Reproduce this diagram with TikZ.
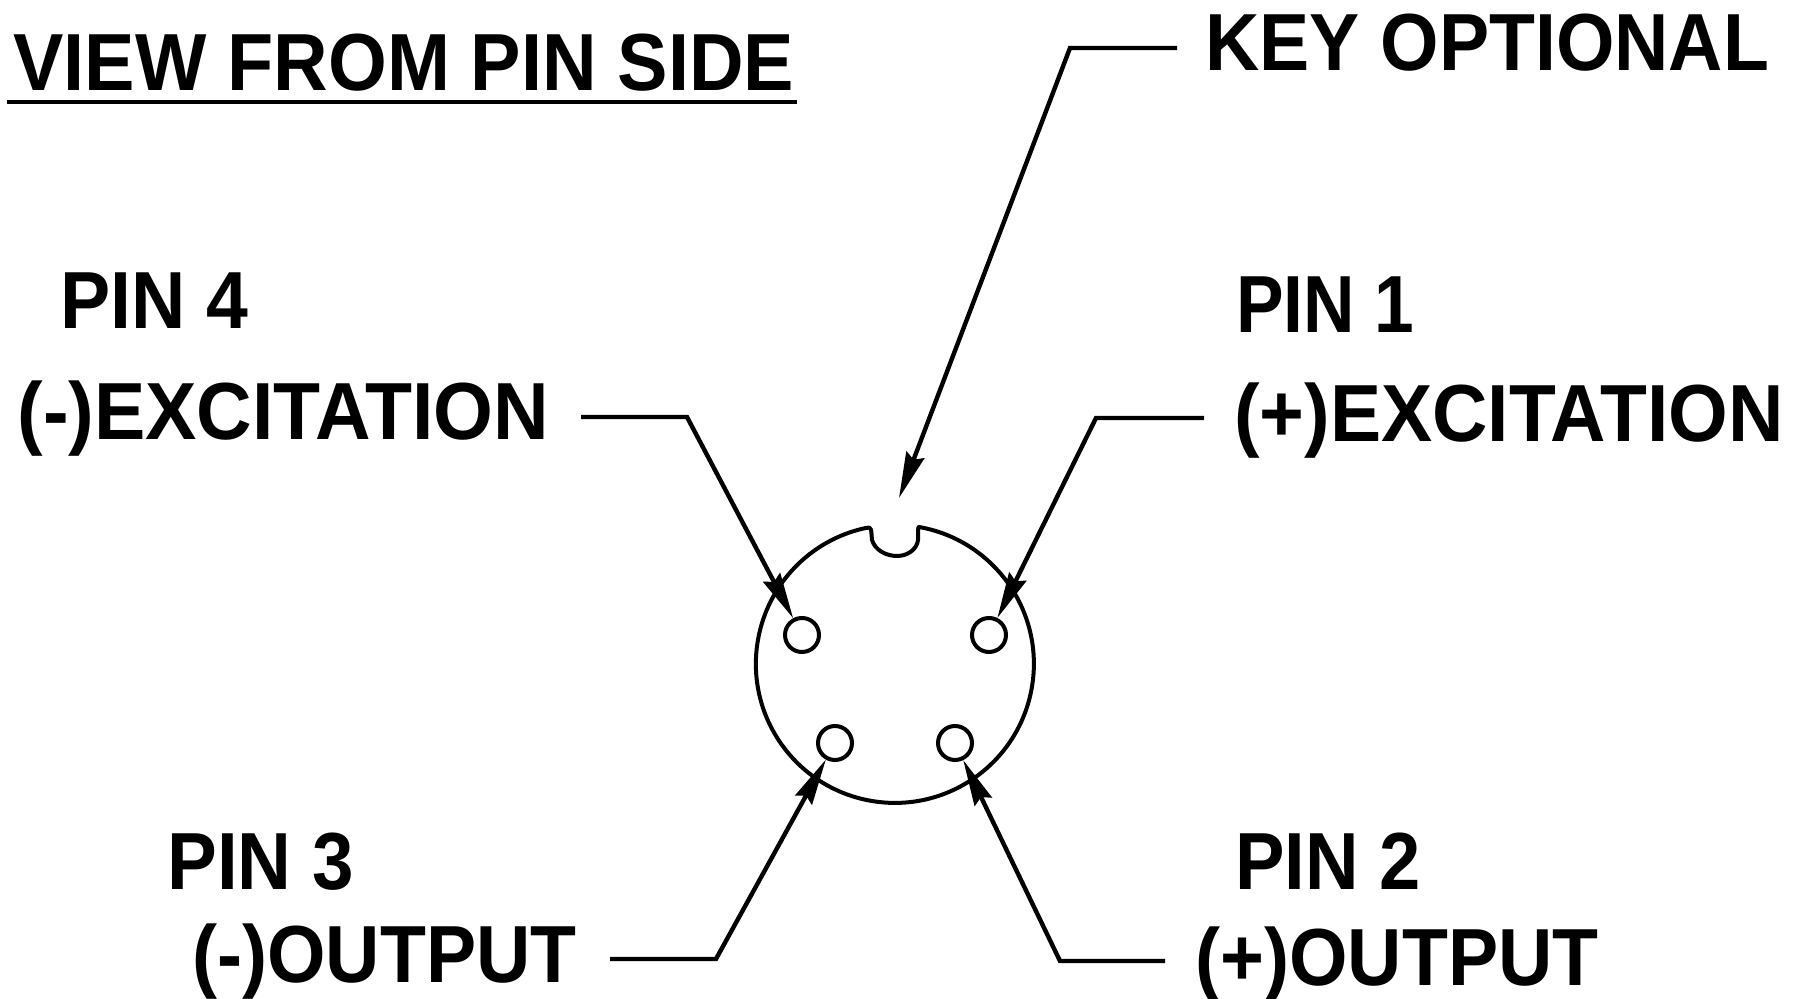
\documentclass[tikz,border=0pt]{standalone}
\usepackage{fontspec}
\setmainfont{Liberation Sans}
\usetikzlibrary{arrows.meta}

\begin{document}
\begin{tikzpicture}[x=0.5pt, y=-0.5pt,
        every node/.style={font=\fontsize{40.5}{40.5}\bfseries\selectfont, inner sep=0pt, anchor=base west},
        pinhole/.style={draw, circle, line width=2pt, minimum size=17pt, anchor=center},
        leader/.style={-{Stealth[length=23pt, width=9.5pt, inset=2.5pt]}, line width=2.2pt}]
    \useasboundingbox (0,0) rectangle (1794,999);

    % Title
    \node[xscale=0.933] (title) at (13, 91) {VIEW FROM PIN SIDE};
    \draw[line width=2.2pt] (7, 102) -- (797, 102);

    % Labels, left side
    \node[xscale=0.928] (pinfour) at (60, 329) {PIN 4};
    \node[xscale=0.95] (excneg) at (17, 440) {(-)EXCITATION};
    \node[xscale=0.92] (pinthree) at (167, 889) {PIN 3};
    \node[xscale=0.928] (outneg) at (192, 982) {(-)OUTPUT};

    % Labels, right side
    \node[xscale=0.928] (keyopt) at (1205, 71) {KEY OPTIONAL};
    \node[xscale=0.88] (pinone) at (1236, 333) {PIN 1};
    \node[xscale=0.947] (excpos) at (1234, 442) {(+)EXCITATION};
    \node[xscale=0.915] (pintwo) at (1235, 889) {PIN 2};
    \node[xscale=0.928] (outpos) at (1195, 985) {(+)OUTPUT};

    % Connector body with key notch
    \draw[line width=2pt, line join=round] (919, 527) arc[start angle=-80, end angle=258, radius=139]
        .. controls (872, 526) and (871, 530) .. (872, 540)
        .. controls (875, 550) and (886, 556) .. (897, 556)
        .. controls (908, 556) and (917, 549) .. (918, 540) -- (918, 530)
        .. controls (918, 527) and (919, 527) .. cycle;

    % Pin holes
    \node[pinhole] (pfour) at (802, 635) {};
    \node[pinhole] (pone) at (989, 635) {};
    \node[pinhole] (pthree) at (835, 743) {};
    \node[pinhole] (ptwo) at (955, 743) {};

    % Leader ends
    \coordinate (keyend) at (1177, 48);
    \coordinate (keybend) at (1070, 48);
    \coordinate (keytip) at (899, 498);
    \coordinate (fourend) at (581, 417);
    \coordinate (fourbend) at (687, 417);
    \coordinate (oneend) at (1204, 418);
    \coordinate (onebend) at (1096, 418);
    \coordinate (threeend) at (610, 959);
    \coordinate (threebend) at (716, 959);
    \coordinate (twoend) at (1165, 961);
    \coordinate (twobend) at (1060, 961);

    % Arrows
    \draw[leader] (keyend) -- (keybend) -- (keytip);
    \draw[leader] (fourend) -- (fourbend) -- (pfour);
    \draw[leader] (oneend) -- (onebend) -- (pone);
    \draw[leader] (threeend) -- (threebend) -- (pthree);
    \draw[leader] (twoend) -- (twobend) -- (ptwo);
\end{tikzpicture}
\end{document}
